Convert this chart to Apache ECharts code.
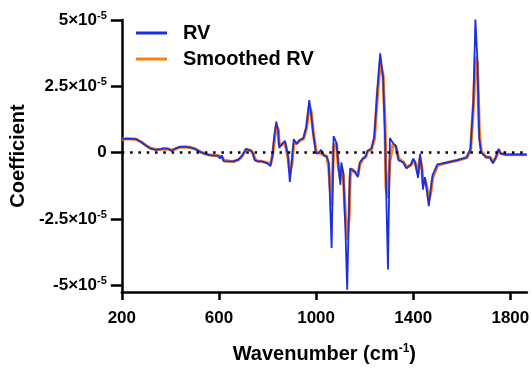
<!DOCTYPE html>
<html><head><meta charset="utf-8">
<script src="https://cdn.jsdelivr.net/npm/echarts@6/dist/echarts.min.js"></script>
<style>html,body{margin:0;padding:0;background:#fff}#c{width:532px;height:369px}</style>
</head><body><div id="c"></div>
<script>
// Values in units of 1e-5
const wavenumber = [200,220,240,260,280,300,320,340,360,372,380,392,404,420,440,460,480,500,520,540,560,580,596,604,612,620,640,660,680,692,700,712,720,732,740,748,760,768,776,784,800,812,820,828,836,844,848,860,872,884,892,900,908,920,932,948,960,972,980,988,1000,1012,1020,1032,1044,1052,1064,1072,1084,1092,1100,1104,1112,1120,1128,1136,1140,1148,1160,1172,1180,1192,1204,1212,1228,1240,1252,1264,1276,1284,1288,1296,1304,1316,1328,1340,1360,1372,1392,1400,1408,1420,1428,1436,1440,1448,1456,1464,1472,1480,1500,1540,1580,1620,1636,1648,1656,1664,1672,1680,1700,1716,1728,1740,1752,1760,1780,1868];
const rv = [0.51,0.53,0.52,0.51,0.40,0.26,0.15,0.11,0.13,0.16,0.09,0.15,0.07,0.15,0.22,0.22,0.20,0.15,0.04,-0.04,-0.09,-0.11,-0.11,-0.22,-0.11,-0.33,-0.33,-0.33,-0.26,-0.15,-0.04,0.15,0.18,0.07,-0.04,-0.29,-0.33,-0.37,-0.33,-0.29,-0.40,-0.51,-0.11,0.62,1.17,0.81,0.18,0.33,0.44,-0.11,-1.10,-0.37,0.51,0.33,0.48,0.55,0.99,1.98,1.43,0.73,-0.04,0.00,0.11,-0.11,-0.15,-0.37,-3.59,0.62,0.37,-0.48,-1.21,-0.37,-0.77,-2.67,-5.16,-1.94,-0.59,-0.59,-0.73,-0.92,-0.37,-0.22,-0.15,0.07,0.15,0.62,2.34,3.74,2.82,0.62,-1.21,-4.40,0.55,0.37,0.26,-0.29,-0.37,-0.59,-0.44,-0.22,-0.37,-0.95,-0.04,-0.66,-1.39,-0.92,-1.39,-2.01,-1.39,-0.84,-0.44,-0.37,-0.29,-0.18,0.15,1.98,5.02,3.55,0.51,0.00,-0.18,-0.18,-0.40,-0.18,0.15,-0.04,-0.07,-0.07];
const smoothedRv = [0.50,0.52,0.52,0.50,0.40,0.27,0.16,0.12,0.13,0.14,0.11,0.13,0.09,0.14,0.21,0.22,0.20,0.15,0.05,-0.03,-0.08,-0.10,-0.12,-0.18,-0.15,-0.28,-0.32,-0.33,-0.27,-0.17,-0.06,0.12,0.16,0.08,-0.02,-0.24,-0.32,-0.35,-0.33,-0.30,-0.38,-0.45,-0.15,0.45,1.00,0.88,0.30,0.30,0.38,-0.15,-0.75,-0.45,0.35,0.35,0.45,0.52,0.90,1.75,1.52,0.80,0.05,0.00,0.07,-0.08,-0.15,-0.55,-2.00,0.25,0.35,-0.55,-1.00,-0.55,-0.85,-2.30,-3.30,-2.40,-0.90,-0.62,-0.72,-0.85,-0.45,-0.25,-0.15,0.05,0.13,0.50,2.10,3.40,2.90,1.00,-1.30,-1.70,-0.30,0.30,0.25,-0.22,-0.36,-0.55,-0.45,-0.28,-0.38,-0.80,-0.20,-0.60,-1.20,-1.00,-1.30,-1.80,-1.50,-0.95,-0.48,-0.37,-0.29,-0.19,0.08,1.80,3.60,3.40,0.80,0.05,-0.16,-0.18,-0.35,-0.20,0.10,-0.02,-0.07,-0.07];
const xTicks = [200,600,1000,1400,1800];
const yTicks = [-5,-2.5,0,2.5,5];
const yTickMant = {'-5':'-5','-2.5':'-2.5','0':'0','2.5':'2.5','5':'5'};

const F = '"Liberation Sans", Arial, sans-serif';
const chart = echarts.init(document.getElementById('c'));
chart.setOption({
  animation:false,
  backgroundColor:'#fff',
  grid:{left:115,right:0,top:20,bottom:69,containLabel:false},
  legend:{
    orient:'vertical', left:131, top:18, itemWidth:31, itemHeight:3, itemGap:6,
    icon:'rect',
    textStyle:{fontFamily:F,fontWeight:'bold',fontSize:20,color:'#000',padding:[0,0,0,11]},
    data:['RV','Smoothed RV']
  },
  xAxis:{
    type:'value', min:200, max:1868,
    axisLine:{show:true,onZero:false,lineStyle:{color:'#000',width:2.5}},
    axisTick:{show:true,length:8,lineStyle:{color:'#000',width:2.5},customValues:xTicks},
    axisLabel:{fontFamily:F,fontWeight:'bold',fontSize:17,color:'#000',margin:18,customValues:xTicks,
      formatter:function(v){return String(v);}},
    splitLine:{show:false},
    name:'{a|Wavenumber (cm}{s|-1}{a|)}', nameLocation:'middle', nameGap:51,
    nameTextStyle:{rich:{a:{fontFamily:F,fontWeight:'bold',fontSize:20,color:'#000'},s:{fontFamily:F,fontWeight:'bold',fontSize:12,color:'#000',padding:[0,0,10,0]}}}
  },
  yAxis:{
    type:'value', min:-5.25, max:5,
    axisLine:{show:true,onZero:false,lineStyle:{color:'#000',width:2.5}},
    axisTick:{show:true,length:11,lineStyle:{color:'#000',width:2.5},customValues:yTicks},
    axisLabel:{margin:15,customValues:yTicks,
      formatter:function(v){ if(v===0) return '{m|0}'; return '{m|'+yTickMant[String(v)]+'×10}{s|-5}'; },
      rich:{m:{fontFamily:F,fontWeight:'bold',fontSize:17,color:'#000'},s:{fontFamily:F,fontWeight:'bold',fontSize:11,color:'#000',padding:[0,0,9,0]}}},
    splitLine:{show:false},
    name:'Coefficient', nameLocation:'middle', nameGap:88, nameRotate:90,
    nameTextStyle:{fontFamily:F,fontWeight:'bold',fontSize:20,color:'#000'}
  },
  series:[
    {name:'Smoothed RV',type:'line',symbol:'none',smooth:false,
     data:wavenumber.map((w,i)=>[w,smoothedRv[i]]),
     itemStyle:{color:'#ff7f0e'},lineStyle:{color:'#ff7f0e',width:3.2},
     markLine:{silent:true,symbol:'none',label:{show:false},
       lineStyle:{color:'#000',type:[2.5,5.8],width:2.5,cap:'butt'},data:[{yAxis:0}]},
     z:2},
    {name:'RV',type:'line',symbol:'none',smooth:false,
     data:wavenumber.map((w,i)=>[w,rv[i]]),
     itemStyle:{color:'#1a2fe0'},lineStyle:{color:'#1a2fe0',width:1.8},z:3}
  ]
});
</script></body></html>
